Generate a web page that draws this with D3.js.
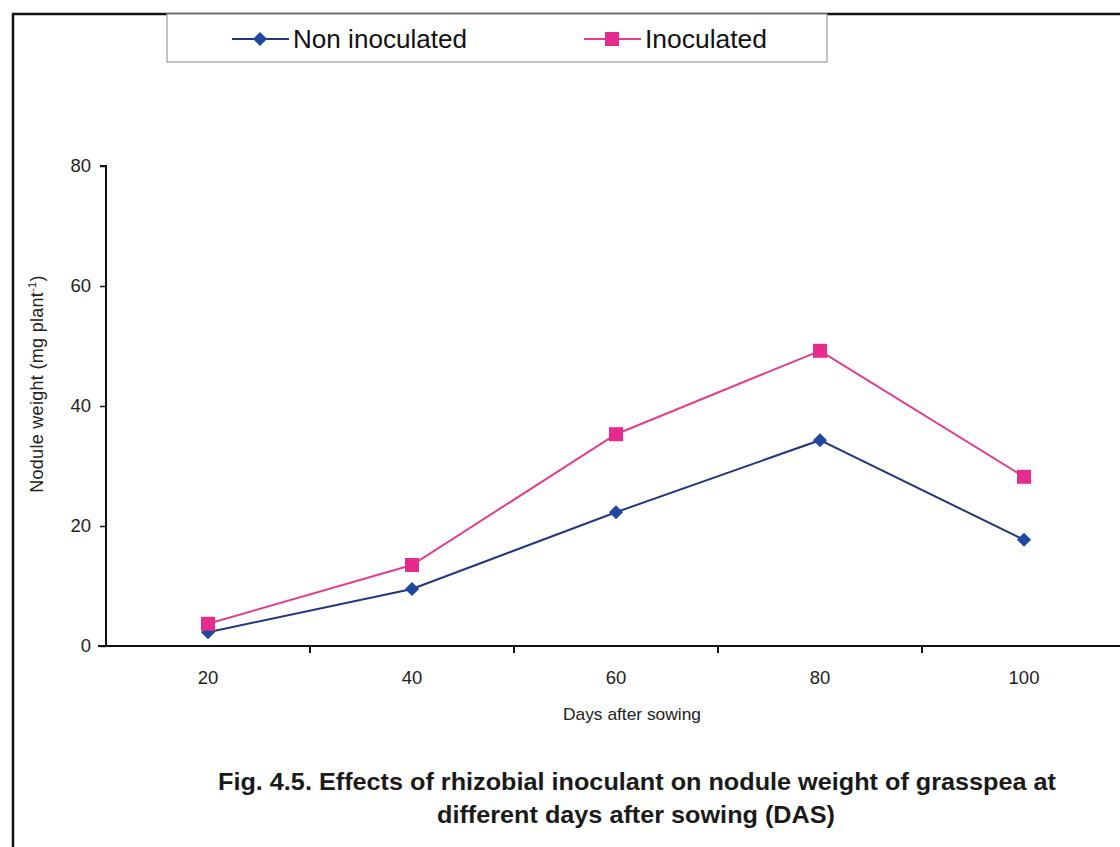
<!DOCTYPE html>
<html>
<head>
<meta charset="utf-8">
<script src="https://cdn.jsdelivr.net/npm/d3@7/dist/d3.min.js"></script>
<style>
  html, body { margin: 0; padding: 0; background: #ffffff; }
  svg { display: block; font-family: "Liberation Sans", Arial, sans-serif; }
</style>
</head>
<body>
<svg id="chart" width="1120" height="847"></svg>
<script>
// Days after sowing
const days = ["20", "40", "60", "80", "100"];
// Nodule weight (mg plant^-1)
const nonInoculated = [2.3, 9.5, 22.3, 34.3, 17.7];
const inoculated = [3.7, 13.5, 35.3, 49.2, 28.2];
const yTicks = [0, 20, 40, 60, 80];
const seriesNames = ["Non inoculated", "Inoculated"];

const svg = d3.select("#chart");
const W = 1120, H = 847;

const plot = { left: 106, right: 1126, top: 166, bottom: 646 };

const x = d3.scaleBand().domain(days).range([plot.left, plot.right]);
const y = d3.scaleLinear().domain([0, 80]).range([plot.bottom, plot.top]);

const blueLine = "#23367f", blueMark = "#1f47a0";
const pinkLine = "#e23d8e", pinkMark = "#e52b8b";

// outer frame (top and left edges)
svg.append("path")
  .attr("d", `M13,${H} L13,14 L${W},14`)
  .attr("fill", "none").attr("stroke", "#111").attr("stroke-width", 2.5);

// y axis
const yAxis = d3.axisLeft(y).tickValues(yTicks).tickSize(6).tickPadding(9).tickFormat(d3.format("d"));
const gy = svg.append("g").attr("transform", `translate(${plot.left},0)`).call(yAxis);
gy.select(".domain").attr("stroke", "#111").attr("stroke-width", 2).attr("d", `M-6,${plot.top}H0V${plot.bottom}`);
gy.selectAll(".tick line").attr("stroke", "#111").attr("stroke-width", 1.5);
gy.selectAll(".tick text").attr("font-size", 18.5).attr("fill", "#222").attr("font-family", "Liberation Sans, Arial, sans-serif");

// x axis: category axis with tick marks between categories
const gx = svg.append("g").attr("transform", `translate(0,${plot.bottom})`);
gx.append("line").attr("x1", plot.left - 8).attr("x2", W).attr("y1", 0).attr("y2", 0)
  .attr("stroke", "#111").attr("stroke-width", 2);
gx.selectAll(".sep").data(days).enter().append("line")
  .attr("x1", d => x(d) + x.bandwidth()).attr("x2", d => x(d) + x.bandwidth())
  .attr("y1", 0).attr("y2", 7).attr("stroke", "#111").attr("stroke-width", 2);
gx.selectAll(".lbl").data(days).enter().append("text")
  .attr("x", d => x(d) + x.bandwidth() / 2).attr("y", 38)
  .attr("text-anchor", "middle").attr("font-size", 18.5).attr("fill", "#222")
  .text(d => d);

// axis titles
svg.append("text").attr("x", 632).attr("y", 720).attr("text-anchor", "middle")
  .attr("font-size", 17).attr("fill", "#222")
  .attr("textLength", 138).attr("lengthAdjust", "spacingAndGlyphs")
  .text("Days after sowing");

const yt = svg.append("text")
  .attr("transform", "translate(43,384) rotate(-90)")
  .attr("text-anchor", "middle").attr("font-size", 18).attr("letter-spacing", 0.3)
  .attr("fill", "#222");
yt.append("tspan").text("Nodule weight (mg plant");
yt.append("tspan").attr("font-size", 11).attr("dy", -7).text("-1");
yt.append("tspan").attr("dy", 7).text(")");

// series
const line = d3.line().x((d, i) => x(days[i]) + x.bandwidth() / 2).y(d => y(d));

svg.append("path").datum(nonInoculated).attr("d", line)
  .attr("fill", "none").attr("stroke", blueLine).attr("stroke-width", 2);
svg.append("path").datum(inoculated).attr("d", line)
  .attr("fill", "none").attr("stroke", pinkLine).attr("stroke-width", 2);

const diamond = d3.symbol().type(d3.symbolSquare).size(100);
svg.selectAll(".mk-non").data(nonInoculated).enter().append("path")
  .attr("d", diamond)
  .attr("transform", (d, i) => `translate(${x(days[i]) + x.bandwidth() / 2},${y(d)}) rotate(45)`)
  .attr("fill", blueMark);

svg.selectAll(".mk-ino").data(inoculated).enter().append("rect")
  .attr("x", (d, i) => x(days[i]) + x.bandwidth() / 2 - 7)
  .attr("y", d => y(d) - 7)
  .attr("width", 14).attr("height", 14)
  .attr("fill", pinkMark);

// legend
const lg = svg.append("g");
lg.append("rect").attr("x", 167).attr("y", 14).attr("width", 660).attr("height", 48)
  .attr("fill", "#fff").attr("stroke", "#9a9a9a").attr("stroke-width", 1.2);
const items = [
  { name: seriesNames[0], x0: 232, color: blueLine, mark: blueMark, shape: "diamond", w: 174 },
  { name: seriesNames[1], x0: 584, color: pinkLine, mark: pinkMark, shape: "square", w: 122 }
];
items.forEach(it => {
  lg.append("line").attr("x1", it.x0).attr("x2", it.x0 + 57).attr("y1", 39).attr("y2", 39)
    .attr("stroke", it.color).attr("stroke-width", 2.2);
  if (it.shape === "diamond") {
    lg.append("path").attr("d", diamond)
      .attr("transform", `translate(${it.x0 + 28},39) rotate(45)`).attr("fill", it.mark);
  } else {
    lg.append("rect").attr("x", it.x0 + 21).attr("y", 32).attr("width", 14).attr("height", 14)
      .attr("fill", it.mark);
  }
  lg.append("text").attr("x", it.x0 + 61).attr("y", 48).attr("font-size", 26).attr("fill", "#111")
    .attr("textLength", it.w).attr("lengthAdjust", "spacingAndGlyphs")
    .text(it.name);
});

// caption
const cap = svg.append("g").attr("font-weight", "bold").attr("font-size", 24).attr("fill", "#1a1a1a")
  .attr("text-anchor", "middle");
cap.append("text").attr("x", 637).attr("y", 790)
  .attr("textLength", 838).attr("lengthAdjust", "spacingAndGlyphs")
  .text("Fig. 4.5. Effects of rhizobial inoculant on nodule weight of grasspea at");
cap.append("text").attr("x", 636).attr("y", 823)
  .attr("textLength", 398).attr("lengthAdjust", "spacingAndGlyphs")
  .text("different days after sowing (DAS)");
</script>
</body>
</html>
